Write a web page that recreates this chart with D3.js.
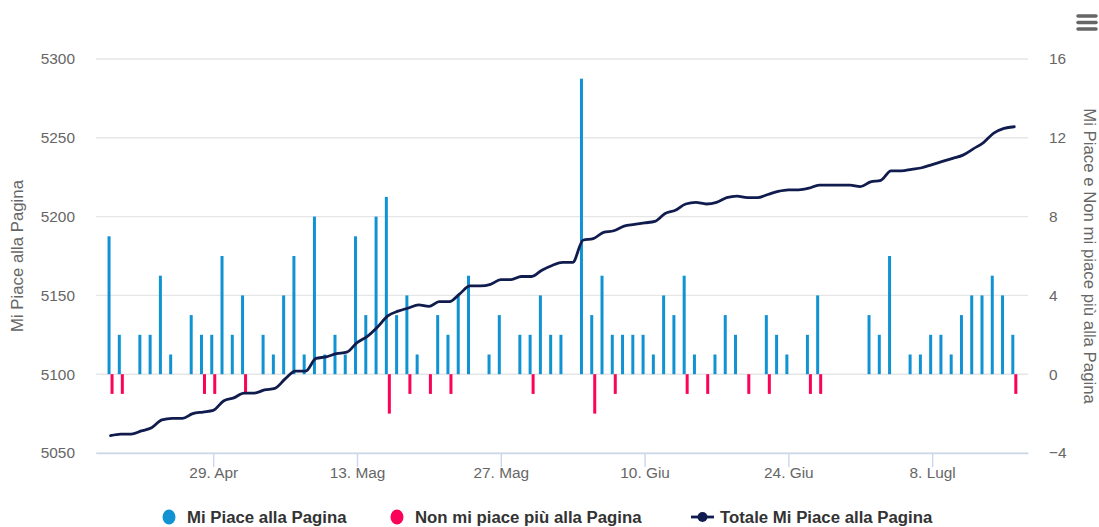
<!DOCTYPE html>
<html>
<head>
<meta charset="utf-8">
<script src="https://cdn.jsdelivr.net/npm/d3@7"></script>
<style>
    body { margin: 0; background: #fff; }
    svg { display: block; font-family: "Liberation Sans", Arial, sans-serif; }
</style>
</head>
<body>
<svg id="chart" width="1099" height="527"></svg>
<script>
// daily values, 19 Apr -> 16 Jul
const firstDay = new Date(2019, 3, 19);
const likes = [7, 2, 0, 2, 2, 5, 1, 0, 3, 2, 2, 6, 2, 4, 0, 2, 1, 4, 6, 1, 8, 1, 2, 1, 7, 3, 8, 9, 3, 4,
    1, 0, 3, 2, 4, 5, 0, 1, 3, 0, 2, 2, 4, 2, 2, 0, 15, 3, 5, 2, 2, 2, 2, 1, 4, 3, 5, 1, 0, 1,
    3, 2, 0, 0, 3, 2, 1, 0, 2, 4, 0, 0, 0, 0, 3, 2, 6, 0, 1, 1, 2, 2, 1, 3, 4, 4, 5, 4, 2];
const unlikes = [-1, -1, 0, 0, 0, 0, 0, 0, 0, -1, -1, 0, 0, -1, 0, 0, 0, 0, 0, 0, 0, 0, 0, 0, 0, 0, 0, -2, 0, -1,
    0, -1, 0, -1, 0, 0, 0, 0, 0, 0, 0, -1, 0, 0, 0, 0, 0, -2, 0, -1, 0, 0, 0, 0, 0, 0, -1, 0, -1, 0,
    0, 0, -1, 0, -1, 0, 0, 0, -1, -1, 0, 0, 0, 0, 0, 0, 0, 0, 0, 0, 0, 0, 0, 0, 0, 0, 0, 0, -1];
const totals = [5061, 5062, 5062, 5064, 5066, 5071, 5072, 5072, 5075, 5076, 5077, 5083, 5085, 5088, 5088,
    5090, 5091, 5097, 5102, 5102, 5110, 5111, 5113, 5114, 5120, 5124, 5130, 5137, 5140, 5142,
    5144, 5143, 5146, 5146, 5151, 5156, 5156, 5157, 5160, 5160, 5162, 5162, 5166, 5169, 5171,
    5171, 5185, 5186, 5190, 5191, 5194, 5195, 5196, 5197, 5202, 5204, 5208, 5209, 5208, 5209,
    5212, 5213, 5212, 5212, 5214, 5216, 5217, 5217, 5218, 5220, 5220, 5220, 5220, 5219, 5222,
    5223, 5229, 5229, 5230, 5231, 5233, 5235, 5237, 5239, 5243, 5247, 5253, 5256, 5257];

const tickDates = [new Date(2019, 3, 29), new Date(2019, 4, 13), new Date(2019, 4, 27),
    new Date(2019, 5, 10), new Date(2019, 5, 24), new Date(2019, 6, 8)];
const tickLabels = ["29. Apr", "13. Mag", "27. Mag", "10. Giu", "24. Giu", "8. Lugl"];
const leftTicks = [5050, 5100, 5150, 5200, 5250, 5300];
const rightTicks = [-4, 0, 4, 8, 12, 16];

const seriesNames = ["Mi Piace alla Pagina", "Non mi piace più alla Pagina", "Totale Mi Piace alla Pagina"];
const colors = ["#1193d3", "#fb0359", "#111c4e"];

const days = likes.map((v, i) => d3.timeDay.offset(firstDay, i));

const plotLeft = 96, plotRight = 1028, plotTop = 59, plotBottom = 453;
const svg = d3.select("#chart");

const x = d3.scaleTime()
    .domain([new Date(2019, 3, 17, 14), new Date(2019, 6, 17, 8)])
    .range([plotLeft, plotRight]);
const yL = d3.scaleLinear().domain([5050, 5300]).range([plotBottom, plotTop]);
const yR = d3.scaleLinear().domain([-4, 16]).range([plotBottom, plotTop]);

// grid
svg.append("g").selectAll("line").data(leftTicks).join("line")
    .attr("x1", plotLeft).attr("x2", plotRight)
    .attr("y1", d => yL(d)).attr("y2", d => yL(d))
    .attr("stroke", "#e6e6e6").attr("stroke-width", 1.4);

// x axis
const xAxis = svg.append("g").attr("transform", `translate(0,${plotBottom})`)
    .call(d3.axisBottom(x).tickValues(tickDates).tickFormat((d, i) => tickLabels[i]).tickSize(14).tickSizeOuter(0));
xAxis.select(".domain").attr("stroke", "#ccd6eb").attr("stroke-width", 1.4);
xAxis.selectAll(".tick line").attr("stroke", "#ccd6eb").attr("stroke-width", 1.4);
xAxis.selectAll(".tick text").attr("y", 14).attr("dy", "0.71em")
    .attr("fill", "#666").attr("font-size", "15.4px").attr("font-family", "Liberation Sans, Arial");

// left axis
const yAxisL = svg.append("g").attr("transform", `translate(${plotLeft},0)`)
    .call(d3.axisLeft(yL).tickValues(leftTicks).tickFormat(d3.format("d")).tickSize(0));
yAxisL.select(".domain").remove();
yAxisL.selectAll(".tick text").attr("x", -21)
    .attr("fill", "#666").attr("font-size", "15.4px").attr("font-family", "Liberation Sans, Arial");

// right axis
const yAxisR = svg.append("g").attr("transform", `translate(${plotRight},0)`)
    .call(d3.axisRight(yR).tickValues(rightTicks).tickFormat(d3.format("d")).tickSize(0));
yAxisR.select(".domain").remove();
yAxisR.selectAll(".tick text").attr("x", 21)
    .attr("fill", "#666").attr("font-size", "15.4px").attr("font-family", "Liberation Sans, Arial");

// axis titles
svg.append("text").text("Mi Piace alla Pagina")
    .attr("transform", `translate(23,${(plotTop + plotBottom) / 2}) rotate(-90)`)
    .attr("text-anchor", "middle").attr("fill", "#666").attr("font-size", "16.8px");
svg.append("text").text("Mi Piace e Non mi piace più alla Pagina")
    .attr("transform", `translate(1084,${(plotTop + plotBottom) / 2}) rotate(90)`)
    .attr("text-anchor", "middle").attr("fill", "#666").attr("font-size", "16.8px");

// columns
const barW = 3;
svg.append("g").selectAll("rect").data(likes).join("rect")
    .attr("x", (d, i) => x(days[i]) - barW)
    .attr("y", d => yR(d))
    .attr("width", barW)
    .attr("height", d => yR(0) - yR(d))
    .attr("fill", colors[0]);

svg.append("g").selectAll("rect").data(unlikes).join("rect")
    .attr("x", (d, i) => x(days[i]))
    .attr("y", yR(0))
    .attr("width", barW)
    .attr("height", d => yR(d) - yR(0))
    .attr("fill", colors[1]);

// total line
const line = d3.line()
    .x((d, i) => x(days[i]))
    .y(d => yL(d))
    .curve(d3.curveMonotoneX);
svg.append("path").datum(totals)
    .attr("d", line)
    .attr("fill", "none")
    .attr("stroke", colors[2])
    .attr("stroke-width", 2.8)
    .attr("stroke-linejoin", "round")
    .attr("stroke-linecap", "round");

// legend
const legendY = 517;
const legendX = [169, 397, 691];
const legend = svg.append("g").attr("font-size", "16.8px").attr("font-weight", "bold").attr("fill", "#333");
seriesNames.forEach((name, i) => {
    const g = legend.append("g").attr("transform", `translate(${legendX[i]},${legendY})`);
    if (i < 2) {
        g.append("ellipse").attr("cx", 0).attr("cy", 0).attr("rx", 6.5).attr("ry", 7.5).attr("fill", colors[i]);
        g.append("text").text(name).attr("x", 18).attr("dy", "0.35em");
    } else {
        g.append("line").attr("x1", 0).attr("x2", 23).attr("y1", 0).attr("y2", 0)
            .attr("stroke", colors[2]).attr("stroke-width", 2.8);
        g.append("circle").attr("cx", 11.5).attr("cy", 0).attr("r", 5).attr("fill", colors[2]);
        g.append("text").text(name).attr("x", 29).attr("dy", "0.35em");
    }
});

// menu button
svg.append("g").selectAll("line").data([16, 22.5, 29]).join("line")
    .attr("x1", 1078).attr("x2", 1096)
    .attr("y1", d => d).attr("y2", d => d)
    .attr("stroke", "#666").attr("stroke-width", 3.5).attr("stroke-linecap", "round");
</script>
</body>
</html>
